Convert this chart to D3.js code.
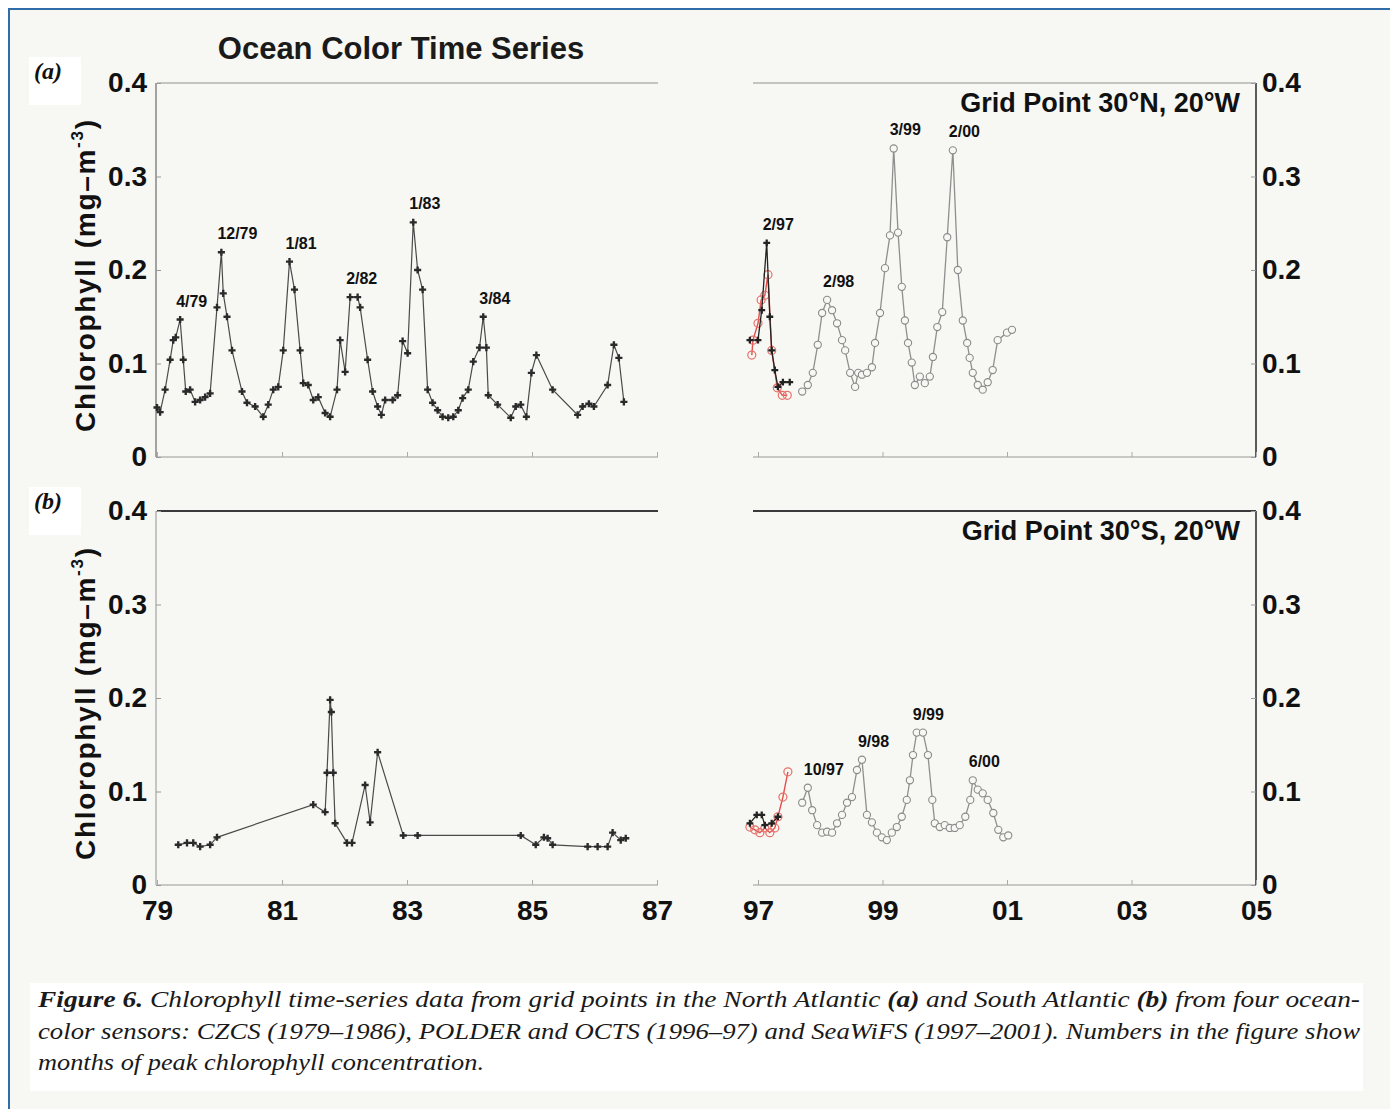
<!DOCTYPE html>
<html>
<head>
<meta charset="utf-8">
<script src="https://cdn.jsdelivr.net/npm/d3@7"></script>
<style>
  html, body { margin: 0; padding: 0; background: #ffffff; }
  svg { display: block; }
  .sans { font-family: "Liberation Sans", Arial, Helvetica, sans-serif; font-weight: bold; }
</style>
</head>
<body>
<svg id="fig" width="1390" height="1109"></svg>
<script>
// ---- Chlorophyll (mg m^-3) time series, [decimal year, value] ----

// (a) 30°N, 20°W
const czcsNorth = [
  [1979.00,0.053],[1979.05,0.048],[1979.13,0.072],[1979.21,0.104],[1979.26,0.125],[1979.30,0.128],
  [1979.37,0.147],[1979.42,0.104],[1979.46,0.070],[1979.53,0.072],[1979.61,0.059],[1979.69,0.061],
  [1979.77,0.064],[1979.85,0.068],[1979.96,0.160],[1980.03,0.219],[1980.06,0.175],[1980.12,0.150],
  [1980.20,0.114],[1980.36,0.070],[1980.44,0.058],[1980.57,0.054],[1980.70,0.043],[1980.78,0.056],
  [1980.86,0.072],[1980.94,0.075],[1981.02,0.114],[1981.12,0.209],[1981.20,0.179],[1981.29,0.114],
  [1981.34,0.079],[1981.42,0.077],[1981.50,0.061],[1981.58,0.064],[1981.69,0.047],[1981.77,0.043],
  [1981.88,0.072],[1981.93,0.125],[1982.01,0.091],[1982.09,0.171],[1982.21,0.171],[1982.25,0.160],
  [1982.37,0.104],[1982.45,0.070],[1982.53,0.054],[1982.59,0.045],[1982.65,0.061],[1982.77,0.061],
  [1982.85,0.066],[1982.93,0.124],[1983.01,0.111],[1983.10,0.251],[1983.17,0.200],[1983.25,0.179],
  [1983.33,0.072],[1983.41,0.058],[1983.49,0.050],[1983.57,0.043],[1983.66,0.042],[1983.74,0.043],
  [1983.82,0.050],[1983.89,0.063],[1983.98,0.072],[1984.06,0.102],[1984.16,0.117],[1984.22,0.150],
  [1984.27,0.117],[1984.30,0.066],[1984.45,0.056],[1984.66,0.042],[1984.74,0.054],[1984.82,0.056],
  [1984.91,0.043],[1984.99,0.090],[1985.07,0.109],[1985.33,0.072],[1985.73,0.045],[1985.81,0.054],
  [1985.91,0.057],[1985.99,0.054],[1986.21,0.077],[1986.31,0.120],[1986.39,0.106],[1986.47,0.059]
];
const octsNorth = [
  [1996.87,0.125],[1997.00,0.125],[1997.06,0.157],[1997.14,0.229],[1997.19,0.150],[1997.22,0.114],
  [1997.27,0.093],[1997.32,0.075],[1997.40,0.080],[1997.51,0.080]
];
const polderNorth = [
  [1996.90,0.109],[1996.92,0.125],[1997.00,0.143],[1997.05,0.168],[1997.11,0.173],[1997.16,0.195],
  [1997.22,0.114],[1997.31,0.074],[1997.39,0.066],[1997.47,0.066]
];
const seawifsNorth = [
  [1997.71,0.070],[1997.80,0.077],[1997.88,0.090],[1997.96,0.120],[1998.03,0.154],[1998.11,0.168],
  [1998.19,0.157],[1998.27,0.143],[1998.35,0.125],[1998.40,0.114],[1998.48,0.090],[1998.56,0.075],
  [1998.61,0.090],[1998.67,0.088],[1998.75,0.090],[1998.83,0.096],[1998.88,0.122],[1998.96,0.154],
  [1999.04,0.202],[1999.12,0.237],[1999.18,0.330],[1999.25,0.240],[1999.31,0.182],[1999.36,0.146],
  [1999.41,0.122],[1999.47,0.101],[1999.52,0.077],[1999.60,0.086],[1999.68,0.079],[1999.76,0.086],
  [1999.81,0.107],[1999.88,0.139],[1999.96,0.155],[2000.04,0.235],[2000.13,0.328],[2000.21,0.200],
  [2000.29,0.146],[2000.36,0.122],[2000.40,0.106],[2000.45,0.090],[2000.53,0.077],[2000.61,0.072],
  [2000.69,0.080],[2000.77,0.093],[2000.85,0.125],[2001.00,0.133],[2001.08,0.136]
];

// (b) 30°S, 20°W
const czcsSouth = [
  [1979.34,0.043],[1979.48,0.045],[1979.58,0.045],[1979.69,0.041],[1979.85,0.043],[1979.96,0.051],
  [1981.50,0.086],[1981.69,0.078],[1981.72,0.120],[1981.77,0.198],[1981.79,0.185],[1981.82,0.120],
  [1981.85,0.066],[1982.04,0.045],[1982.12,0.045],[1982.33,0.107],[1982.41,0.067],[1982.53,0.142],
  [1982.94,0.053],[1983.17,0.053],[1984.82,0.053],[1985.06,0.043],[1985.19,0.051],[1985.25,0.050],
  [1985.33,0.043],[1985.89,0.041],[1986.05,0.041],[1986.21,0.041],[1986.29,0.056],[1986.42,0.048],
  [1986.50,0.050]
];
const octsSouth = [
  [1996.87,0.066],[1996.98,0.075],[1997.06,0.075],[1997.11,0.064],[1997.22,0.066],[1997.32,0.073]
];
const polderSouth = [
  [1996.87,0.062],[1996.95,0.059],[1997.03,0.056],[1997.11,0.061],[1997.19,0.056],[1997.27,0.061],
  [1997.32,0.073],[1997.40,0.094],[1997.48,0.121]
];
const seawifsSouth = [
  [1997.71,0.088],[1997.80,0.104],[1997.87,0.080],[1997.95,0.064],[1998.03,0.056],[1998.11,0.057],
  [1998.19,0.056],[1998.27,0.066],[1998.35,0.075],[1998.43,0.088],[1998.51,0.094],[1998.59,0.123],
  [1998.67,0.134],[1998.75,0.075],[1998.83,0.067],[1998.91,0.056],[1998.99,0.051],[1999.07,0.048],
  [1999.15,0.056],[1999.23,0.062],[1999.31,0.073],[1999.39,0.091],[1999.44,0.112],[1999.49,0.139],
  [1999.55,0.163],[1999.65,0.163],[1999.73,0.139],[1999.80,0.091],[1999.84,0.066],[1999.92,0.062],
  [2000.00,0.064],[2000.08,0.061],[2000.16,0.061],[2000.24,0.064],[2000.33,0.073],[2000.41,0.091],
  [2000.45,0.112],[2000.53,0.102],[2000.61,0.098],[2000.69,0.091],[2000.78,0.077],[2000.86,0.059],
  [2000.94,0.051],[2001.02,0.053]
];

// peak month labels: [text, series, year of the peak sample]
const peaksNorth = [
  ["4/79","czcs",1979.37],["12/79","czcs",1980.03],["1/81","czcs",1981.12],["2/82","czcs",1982.09],
  ["1/83","czcs",1983.10],["3/84","czcs",1984.22],["2/97","octs",1997.14],["2/98","seawifs",1998.11],
  ["3/99","seawifs",1999.18],["2/00","seawifs",2000.13]
];
const peaksSouth = [
  ["10/97","seawifs",1997.80],["9/98","seawifs",1998.67],["9/99","seawifs",1999.55],["6/00","seawifs",2000.45]
];

// axis ticks
const yTicks = [0, 0.1, 0.2, 0.3, 0.4];
const earlyYears = [1979, 1981, 1983, 1985, 1987];
const lateYears = [1997, 1999, 2001, 2003, 2005];

// ---- drawing ----
const W = 1390, H = 1109;
const svg = d3.select("#fig");
const BG = "#f7f7f3";

// page and blue frame
svg.append("rect").attr("width", W).attr("height", H).attr("fill", "#ffffff");
svg.append("rect").attr("x", 9).attr("y", 9).attr("width", W).attr("height", H).attr("fill", BG);
svg.append("line").attr("x1", 8).attr("x2", W).attr("y1", 9).attr("y2", 9)
  .attr("stroke", "#2f6ca8").attr("stroke-width", 2);
svg.append("line").attr("x1", 9).attr("x2", 9).attr("y1", 8).attr("y2", H)
  .attr("stroke", "#2f6ca8").attr("stroke-width", 2);

// broken time axis: 1979-87 and 1997-2005
const xEarly = d3.scaleLinear().domain([1979, 1987]).range([157, 657]);
const xLate = d3.scaleLinear().domain([1997, 2005]).range([758, 1256]);
const xOf = t => (t < 1990 ? xEarly(t) : xLate(t));

const panels = [
  { id: "a", y: d3.scaleLinear().domain([0, 0.4]).range([457, 83]),
    czcs: czcsNorth, octs: octsNorth, polder: polderNorth, seawifs: seawifsNorth,
    peaks: peaksNorth, site: "Grid Point 30\u00B0N, 20\u00B0W",
    topStroke: "#c4c4c2", leftStroke: "#8c8c8c", labels: false },
  { id: "b", y: d3.scaleLinear().domain([0, 0.4]).range([885, 511]),
    czcs: czcsSouth, octs: octsSouth, polder: polderSouth, seawifs: seawifsSouth,
    peaks: peaksSouth, site: "Grid Point 30\u00B0S, 20\u00B0W",
    topStroke: "#3a3a3a", leftStroke: "#b8b8b6", labels: true }
];

const fmtY = d => (d === 0 ? "0" : d3.format(".1f")(d));
const fmtX = d => String(d % 100).padStart(2, "0");

panels.forEach(p => {
  const g = svg.append("g");
  const y = p.y;
  const y0 = y(0), y1 = y(0.4);

  // frame lines
  [[157, 658], [753, 1256]].forEach(([a, b]) => {
    g.append("line").attr("x1", a).attr("x2", b).attr("y1", y1).attr("y2", y1)
      .attr("stroke", p.topStroke).attr("stroke-width", 2);
    g.append("line").attr("x1", a).attr("x2", b).attr("y1", y0).attr("y2", y0)
      .attr("stroke", "#c8c8c6").attr("stroke-width", 2);
  });
  g.append("line").attr("x1", 156).attr("x2", 156).attr("y1", y1).attr("y2", y0)
    .attr("stroke", p.leftStroke).attr("stroke-width", 1.6);
  g.append("line").attr("x1", 1256).attr("x2", 1256).attr("y1", y1).attr("y2", y0)
    .attr("stroke", "#333").attr("stroke-width", 1.6);

  // y axes
  const left = g.append("g").attr("transform", "translate(156,0)")
    .call(d3.axisLeft(y).tickValues(yTicks).tickFormat(fmtY).tickSize(-5).tickSizeOuter(0).tickPadding(9));
  const right = g.append("g").attr("transform", "translate(1256,0)")
    .call(d3.axisRight(y).tickValues(yTicks).tickFormat(fmtY).tickSize(-5).tickSizeOuter(0).tickPadding(6));
  [left, right].forEach(ax => {
    ax.select(".domain").remove();
    ax.selectAll(".tick line").attr("stroke", "#999");
    ax.selectAll("text").attr("class", "sans").attr("font-size", 28).attr("fill", "#111");
  });

  // x axes
  [[xEarly, earlyYears], [xLate, lateYears]].forEach(([sc, yrs]) => {
    const ax = g.append("g").attr("transform", `translate(0,${y0})`)
      .call(d3.axisBottom(sc).tickValues(yrs).tickFormat(fmtX).tickSize(-5).tickSizeOuter(0).tickPadding(15));
    ax.select(".domain").remove();
    ax.selectAll(".tick line").attr("stroke", "#aaa");
    if (p.labels) {
      ax.selectAll("text").attr("class", "sans").attr("font-size", 28).attr("fill", "#111");
    } else {
      ax.selectAll("text").remove();
    }
  });

  // axis title
  const yt = g.append("text").attr("class", "sans").attr("font-size", 28).attr("fill", "#111")
    .attr("text-anchor", "middle").attr("textLength", 312).attr("lengthAdjust", "spacing")
    .attr("transform", `translate(95,${(y0 + y1) / 2 + 6}) rotate(-90)`);
  yt.append("tspan").text("Chlorophyll (mg\u2013m");
  yt.append("tspan").attr("font-size", 17).attr("dy", -12).text("-3");
  yt.append("tspan").attr("dy", 12).text(")");

  // site label
  g.append("text").attr("class", "sans").attr("font-size", 27).attr("fill", "#111")
    .attr("text-anchor", "end").attr("x", 1240).attr("y", y1 + 29).text(p.site);

  // series
  const line = d3.line().x(d => xOf(d[0])).y(d => y(d[1]));

  // SeaWiFS: grey, open circles
  g.append("path").datum(p.seawifs).attr("d", line).attr("fill", "none")
    .attr("stroke", "#8f8f8f").attr("stroke-width", 1.3);
  g.selectAll(".sw").data(p.seawifs).join("circle")
    .attr("cx", d => xOf(d[0])).attr("cy", d => y(d[1])).attr("r", 3.6)
    .attr("fill", BG).attr("stroke", "#8a8a8a").attr("stroke-width", 1.1);

  // POLDER: red, open circles
  g.append("path").datum(p.polder).attr("d", line).attr("fill", "none")
    .attr("stroke", "#e2504c").attr("stroke-width", 1.4);
  g.selectAll(".po").data(p.polder).join("circle")
    .attr("cx", d => xOf(d[0])).attr("cy", d => y(d[1])).attr("r", 4)
    .attr("fill", "none").attr("stroke", "#e8706a").attr("stroke-width", 1.2);

  // OCTS: black with crosses
  g.append("path").datum(p.octs).attr("d", line).attr("fill", "none")
    .attr("stroke", "#222").attr("stroke-width", 1.3);
  g.selectAll(".oc").data(p.octs).join("path")
    .attr("transform", d => `translate(${xOf(d[0])},${y(d[1])})`)
    .attr("d", d3.symbol().type(d3.symbolCross).size(26)).attr("fill", "#222");

  // CZCS: dark grey with crosses
  g.append("path").datum(p.czcs).attr("d", line).attr("fill", "none")
    .attr("stroke", "#4a4a4a").attr("stroke-width", 1.2);
  g.selectAll(".cz").data(p.czcs).join("path")
    .attr("transform", d => `translate(${xOf(d[0])},${y(d[1])})`)
    .attr("d", d3.symbol().type(d3.symbolCross).size(28)).attr("fill", "#2a2a2a");

  // peak month labels, placed from the peak sample itself
  p.peaks.forEach(([txt, key, t]) => {
    const pt = p[key].reduce((best, d) => Math.abs(d[0] - t) < Math.abs(best[0] - t) ? d : best);
    g.append("text").attr("class", "sans").attr("font-size", 16).attr("fill", "#111")
      .attr("x", xOf(pt[0]) - 4).attr("y", y(pt[1]) - 13).text(txt);
  });

  // panel letter on white tag
  const tagY = p.id === "a" ? 57 : 487;
  svg.append("rect").attr("x", 29).attr("y", tagY).attr("width", 52).attr("height", 48).attr("fill", "#ffffff");
  svg.append("text").attr("x", 34).attr("y", tagY + 22)
    .attr("font-family", "'Liberation Serif', 'Times New Roman', serif").attr("font-style", "italic")
    .attr("font-weight", "bold").attr("font-size", 24).attr("fill", "#111").text(`(${p.id})`);
});

// title
svg.append("text").attr("class", "sans").attr("font-size", 31).attr("fill", "#1a1a1a")
  .attr("text-anchor", "middle").attr("x", 401).attr("y", 59).text("Ocean Color Time Series");

// caption
svg.append("rect").attr("x", 30).attr("y", 983).attr("width", 1333).attr("height", 108).attr("fill", "#ffffff");
const capFont = "'Liberation Serif', 'Times New Roman', serif";
const capLines = [
  [[["Figure 6.", true], [" Chlorophyll time-series data from grid points in the North Atlantic ", false], ["(a)", true],
    [" and South Atlantic ", false], ["(b)", true], [" from four ocean-", false]], 1007, 1322],
  [[["color sensors: CZCS (1979\u20131986), POLDER and OCTS (1996\u201397) and SeaWiFS (1997\u20132001). Numbers in the figure show", false]], 1039, 1322],
  [[["months of peak chlorophyll concentration.", false]], 1070, 446]
];
capLines.forEach(([parts, yy, len]) => {
  const t = svg.append("text").attr("x", 38).attr("y", yy)
    .attr("font-family", capFont).attr("font-style", "italic").attr("font-size", 24).attr("fill", "#1a1a1a")
    .attr("textLength", len).attr("lengthAdjust", "spacingAndGlyphs");
  parts.forEach(([s, b]) => t.append("tspan").attr("font-weight", b ? "bold" : "normal").text(s));
});
</script>
</body>
</html>
